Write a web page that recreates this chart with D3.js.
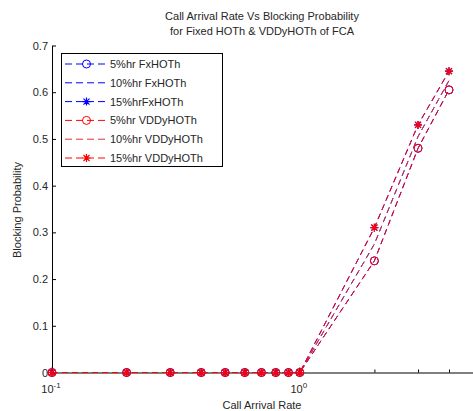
<!doctype html>
<html>
  <head>
    <meta charset="utf-8">
    <title>Call Arrival Rate Vs Blocking Probability</title>
    <style>
      body { margin: 0; background: #fff; }
      text { font-family: "Liberation Sans", Arial, sans-serif; fill: #262626; }
    </style>
  </head>
  <body>
    <script src="https://d3js.org/d3.v7.min.js"></script>
    <script>
      // data
      var rates = [0.1, 0.2, 0.3, 0.4, 0.5, 0.6, 0.7, 0.8, 0.9, 1, 2, 3, 4];
      var fx5   = [0, 0, 0, 0, 0, 0, 0, 0, 0, 0, 0.239, 0.48, 0.605];
      var fx10  = [0, 0, 0, 0, 0, 0, 0, 0, 0, 0, 0.275, 0.505, 0.625];
      var fx15  = [0, 0, 0, 0, 0, 0, 0, 0, 0, 0, 0.31, 0.53, 0.645];
      var vd5   = [0, 0, 0, 0, 0, 0, 0, 0, 0, 0, 0.239, 0.48, 0.605];
      var vd10  = [0, 0, 0, 0, 0, 0, 0, 0, 0, 0, 0.275, 0.505, 0.625];
      var vd15  = [0, 0, 0, 0, 0, 0, 0, 0, 0, 0, 0.31, 0.53, 0.645];
      var names = ["5%hr FxHOTh", "10%hr FxHOTh", "15%hrFxHOTh",
                   "5%hr VDDyHOTh", "10%hr VDDyHOTh", "15%hr VDDyHOTh"];
      var yTicks = [0, 0.1, 0.2, 0.3, 0.4, 0.5, 0.6, 0.7];
      var xMinor = [0.2, 0.3, 0.4, 0.5, 0.6, 0.7, 0.8, 0.9, 2, 3, 4];

      var series = [
        { name: names[0], vals: fx5,  color: "#0000ff", marker: "o" },
        { name: names[1], vals: fx10, color: "#0000ff", marker: "" },
        { name: names[2], vals: fx15, color: "#0000ff", marker: "*" },
        { name: names[3], vals: vd5,  color: "#ff0000", marker: "o" },
        { name: names[4], vals: vd10, color: "#e0303a", marker: "" },
        { name: names[5], vals: vd15, color: "#ff0000", marker: "*" }
      ];

      var w = 473, h = 411;
      var padL = 52, padR = 473, padT = 45.5, padB = 372.5;

      var svg = d3.select("body").append("svg")
        .attr("width", w)
        .attr("height", h);

      var x = d3.scaleLog().domain([0.1, 5]).range([padL, padR]);
      var y = d3.scaleLinear().domain([0, 0.7]).range([padB, padT]);

      // y axis, ticks inside
      var yAxis = svg.append("g")
        .attr("transform", "translate(" + padL + ",0)")
        .call(d3.axisLeft(y).tickValues(yTicks).tickSizeInner(-4).tickSizeOuter(0)
          .tickPadding(4).tickFormat(d3.format("")));
      yAxis.selectAll("text").style("font-size", "11px").attr("fill", "#262626")
        .style("font-family", "Liberation Sans, Arial, sans-serif");

      // x axis: minor ticks only
      var xAxis = svg.append("g")
        .attr("transform", "translate(0," + padB + ")")
        .call(d3.axisBottom(x).tickValues(xMinor).tickSizeInner(-3).tickSizeOuter(0)
          .tickFormat(""));
      svg.selectAll(".domain").attr("stroke", "#000");
      svg.selectAll(".tick line").attr("stroke", "#000");

      // major x ticks with power labels
      var majors = [{ v: 0.1, p: "-1" }, { v: 1, p: "0" }];
      majors.forEach(function(m) {
        svg.append("line")
          .attr("x1", x(m.v)).attr("x2", x(m.v))
          .attr("y1", padB).attr("y2", padB - 5)
          .attr("stroke", "#000");
        var t = svg.append("text")
          .attr("x", x(m.v) - 1)
          .attr("y", padB + 20)
          .attr("text-anchor", "middle")
          .style("font-size", "11px");
        t.append("tspan").text("10");
        t.append("tspan").attr("dy", -5).style("font-size", "8px").text(m.p);
      });

      // titles
      svg.append("text").attr("x", 262).attr("y", 20).attr("text-anchor", "middle")
        .style("font-size", "11px").text("Call Arrival Rate Vs Blocking Probability");
      svg.append("text").attr("x", 262).attr("y", 35).attr("text-anchor", "middle")
        .style("font-size", "11px").text("for Fixed HOTh & VDDyHOTh of FCA");
      svg.append("text").attr("x", 262).attr("y", 409).attr("text-anchor", "middle")
        .style("font-size", "11px").text("Call Arrival Rate");
      svg.append("text")
        .attr("transform", "translate(21,210) rotate(-90)")
        .attr("text-anchor", "middle")
        .style("font-size", "11px").text("Blocking Probability");

      var line = d3.line()
        .x(function(d) { return x(d[0]); })
        .y(function(d) { return y(d[1]); });

      function drawMarker(g, kind, cx, cy, color) {
        if (kind === "o") {
          g.append("circle").attr("cx", cx).attr("cy", cy).attr("r", 4)
            .attr("fill", "none").attr("stroke", color).attr("stroke-width", 1);
        } else if (kind === "*") {
          var s = 4, d = 3;
          var p = "M" + (cx - s) + "," + cy + "H" + (cx + s) +
                  "M" + cx + "," + (cy - s) + "V" + (cy + s) +
                  "M" + (cx - d) + "," + (cy - d) + "L" + (cx + d) + "," + (cy + d) +
                  "M" + (cx - d) + "," + (cy + d) + "L" + (cx + d) + "," + (cy - d);
          g.append("path").attr("d", p).attr("stroke", color).attr("stroke-width", 1.2)
            .attr("fill", "none");
        }
      }

      var plot = svg.append("g");
      series.forEach(function(s) {
        var pts = rates.map(function(r, i) { return [r, s.vals[i]]; });
        var g = plot.append("g");
        g.append("path")
          .datum(pts)
          .attr("d", line)
          .attr("fill", "none")
          .attr("stroke", s.color)
          .attr("stroke-width", 1)
          .attr("stroke-dasharray", "6,4");
        pts.forEach(function(p) {
          drawMarker(g, s.marker, x(p[0]), y(p[1]), s.color);
        });
      });

      //Legend
      var legend = svg.append("g");
      legend.append("rect")
        .attr("x", 61.5).attr("y", 53.5)
        .attr("width", 161).attr("height", 113)
        .attr("fill", "#fff").attr("stroke", "#000");
      series.forEach(function(s, i) {
        var ly = 64 + i * 18.8;
        legend.append("line")
          .attr("x1", 65).attr("x2", 108)
          .attr("y1", ly).attr("y2", ly)
          .attr("stroke", s.color)
          .attr("stroke-dasharray", "7,4");
        drawMarker(legend, s.marker, 86.5, ly, s.color);
        legend.append("text")
          .attr("x", 110).attr("y", ly + 4)
          .style("font-size", "11px")
          .text(s.name);
      });
    </script>
  </body>
</html>
